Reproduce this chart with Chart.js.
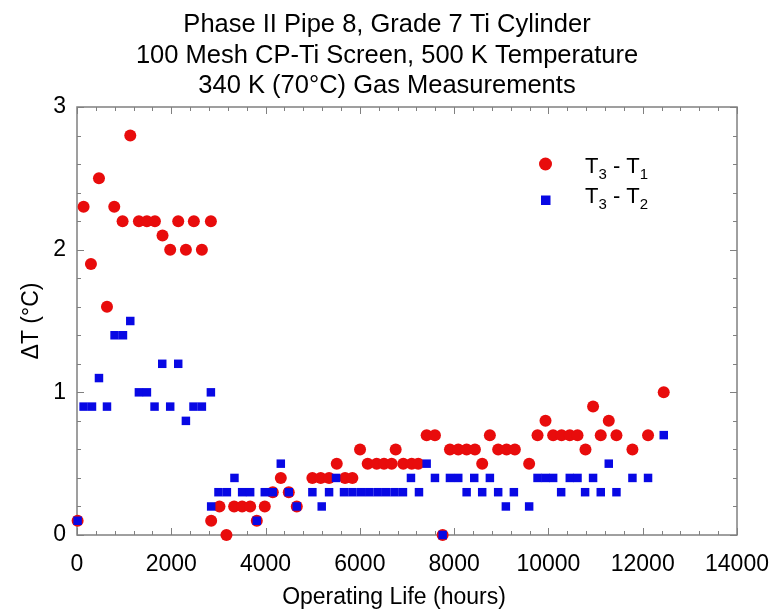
<!DOCTYPE html>
<html><head><meta charset="utf-8">
<script src="https://cdn.jsdelivr.net/npm/chart.js@4/dist/chart.umd.min.js"></script>
<style>html,body{margin:0;padding:0;background:#fff;}canvas{display:block}</style>
</head><body>
<canvas id="c" width="771" height="612"></canvas>
<script>
const titleLines = [
  "Phase II Pipe 8, Grade 7 Ti Cylinder",
  "100 Mesh CP-Ti Screen, 500 K Temperature",
  "340 K (70\u00B0C) Gas Measurements"
];
const xAxisTitle = "Operating Life (hours)";
const yAxisTitle = "\u0394T (\u00B0C)";
const xTickValues = [0, 2000, 4000, 6000, 8000, 10000, 12000, 14000];
const yTickValues = [0, 1, 2, 3];

const t31Hours = [13,140,296,466,636,790,967,1130,1313,1483,1653,1814,1977,2147,2310,2479,2649,2840,
  2846,3022,3170,3333,3503,3673,3814,3983,4153,4323,4492,4662,4993,5170,5347,5510,5686,5841,6004,
  6166,6357,6512,6675,6760,6921,7099,7239,7417,7593,7756,7911,8087,8265,8441,8595,8758,8934,9112,9288,
  9591,9769,9938,10100,10278,10453,10617,10786,10947,11110,11280,11443,11782,12113,12446];
const t31Values = [0.1,2.3,1.9,2.5,1.6,2.3,2.2,2.8,2.2,2.2,2.2,2.1,2.0,2.2,2.0,2.2,2.0,2.2,
  0.1,0.2,0.0,0.2,0.2,0.2,0.1,0.2,0.3,0.4,0.3,0.2,0.4,0.4,0.4,0.5,0.4,0.4,0.6,
  0.5,0.5,0.5,0.5,0.6,0.5,0.5,0.5,0.7,0.7,0.0,0.6,0.6,0.6,0.6,0.5,0.7,0.6,0.6,0.6,
  0.5,0.7,0.8,0.7,0.7,0.7,0.7,0.6,0.9,0.7,0.8,0.7,0.6,0.7,1.0];

const t32Hours = [13,140,318,466,636,797,975,1130,1313,1483,1645,1808,1977,2147,2310,2471,2649,2840,
  2846,3001,3179,3340,3503,3673,3814,3983,4153,4323,4492,4662,4993,5191,5347,5495,5664,5843,6022,
  6200,6378,6556,6736,6914,7084,7254,7417,7593,7756,7911,8087,8265,8426,8595,8758,8934,9097,9267,
  9591,9769,9938,10100,10270,10453,10617,10778,10947,11110,11280,11443,11782,12113,12446];
const t32Values = [0.1,0.9,0.9,1.1,0.9,1.4,1.4,1.5,1.0,1.0,0.9,1.2,0.9,1.2,0.8,0.9,0.9,1.0,
  0.2,0.3,0.3,0.4,0.3,0.3,0.1,0.3,0.3,0.5,0.3,0.2,0.3,0.2,0.3,0.4,0.3,0.3,0.3,
  0.3,0.3,0.3,0.3,0.3,0.4,0.3,0.5,0.4,0.0,0.4,0.4,0.3,0.4,0.3,0.4,0.3,0.2,0.3,
  0.2,0.4,0.4,0.4,0.3,0.4,0.4,0.3,0.4,0.3,0.5,0.3,0.4,0.4,0.7];

const RED = 'rgb(232,12,12)';
const BLUE = 'rgb(8,8,228)';
const FRAME = 'rgb(128,128,128)';
const FONT = "'Liberation Sans', Arial, sans-serif";

const toPts = (xs, ys) => xs.map((x, i) => ({x: x, y: ys[i]}));

const framePlugin = {
  id: 'frameTicks',
  beforeDatasetsDraw(chart) {
    const {ctx, chartArea: a, scales: {x, y}} = chart;
    ctx.save();
    ctx.strokeStyle = FRAME;
    ctx.lineWidth = 1.5;
    ctx.strokeRect(a.left, a.top, a.right - a.left, a.bottom - a.top);
    ctx.lineWidth = 1;
    ctx.beginPath();
    for (let v = 0; v <= 14000; v += 400) {
      const px = Math.round(x.getPixelForValue(v)) + 0.5;
      const len = (v % 2000 === 0) ? 7 : 4;
      ctx.moveTo(px, a.bottom); ctx.lineTo(px, a.bottom - len);
      ctx.moveTo(px, a.top); ctx.lineTo(px, a.top + len);
    }
    for (let k = 0; k <= 15; k++) {
      const v = k * 0.2;
      const py = Math.round(y.getPixelForValue(v)) + 0.5;
      const len = (k % 5 === 0) ? 7 : 4;
      ctx.moveTo(a.left, py); ctx.lineTo(a.left + len, py);
      ctx.moveTo(a.right, py); ctx.lineTo(a.right - len, py);
    }
    ctx.stroke();
    ctx.restore();
  },
  afterDraw(chart) {
    const {ctx} = chart;
    ctx.save();
    ctx.fillStyle = '#000';
    ctx.textAlign = 'center';
    ctx.textBaseline = 'alphabetic';
    ctx.font = '25.5px ' + FONT;
    const base = [32, 62.5, 93];
    titleLines.forEach((t, i) => ctx.fillText(t, 387, base[i]));
    ctx.font = '23px ' + FONT;
    ctx.textBaseline = 'middle';
    ctx.fillText(xAxisTitle, 394, 598);
    ctx.textBaseline = 'alphabetic';
    const drawLabel = (parts, x0, yb) => {
      let xx = x0;
      ctx.textAlign = 'left';
      parts.forEach(([s, sub]) => {
        ctx.font = (sub ? '15px ' : '22px ') + FONT;
        ctx.fillText(s, xx, yb + (sub ? 6 : 0));
        xx += ctx.measureText(s).width;
      });
    };
    ctx.fillStyle = RED;
    ctx.beginPath(); ctx.arc(545.5, 164, 6.5, 0, Math.PI * 2); ctx.fill();
    ctx.fillStyle = BLUE;
    ctx.fillRect(541, 195.5, 9.5, 9.5);
    ctx.fillStyle = '#000';
    drawLabel([['T',0],['3',1],[' - ',0],['T',0],['1',1]], 585, 173);
    drawLabel([['T',0],['3',1],[' - ',0],['T',0],['2',1]], 585, 203);
    ctx.restore();
  }
};

new Chart(document.getElementById('c'), {
  type: 'scatter',
  data: {
    datasets: [
      { label: 'T3 - T1', data: toPts(t31Hours, t31Values), order: 2, clip: false,
        pointStyle: 'circle', pointRadius: 6, pointHoverRadius: 6,
        backgroundColor: RED, borderColor: RED, borderWidth: 0 },
      { label: 'T3 - T2', data: toPts(t32Hours, t32Values), order: 1, clip: false,
        pointStyle: 'rect', pointRadius: 6, pointHoverRadius: 6,
        backgroundColor: BLUE, borderColor: BLUE, borderWidth: 0 }
    ]
  },
  options: {
    responsive: false,
    animation: false,
    events: [],
    layout: { padding: { top: 107, right: 34, bottom: 0, left: 0 } },
    plugins: { legend: { display: false }, title: { display: false }, tooltip: { enabled: false } },
    scales: {
      x: {
        type: 'linear', min: 0, max: 14000,
        afterBuildTicks: s => { s.ticks = xTickValues.map(v => ({value: v})); },
        afterFit: s => { s.height = 77; s.paddingLeft = 0; s.paddingRight = 0; },
        grid: { display: false, drawTicks: false },
        border: { display: false },
        ticks: { color: '#000', font: { family: FONT, size: 23 }, padding: 16, maxRotation: 0, autoSkip: false,
                 callback: v => String(v) },
        title: { display: false, text: xAxisTitle }
      },
      y: {
        type: 'linear', min: 0, max: 3,
        afterBuildTicks: s => { s.ticks = yTickValues.map(v => ({value: v})); },
        afterFit: s => { s.width = 77; s.paddingTop = 0; s.paddingBottom = 0; },
        grid: { display: false, drawTicks: false },
        border: { display: false },
        ticks: { color: '#000', font: { family: FONT, size: 23 }, padding: 11, callback: v => String(v) },
        title: { display: true, text: yAxisTitle, color: '#000', font: { family: FONT, size: 23 }, padding: { top: 18, bottom: 0 } }
      }
    }
  },
  plugins: [framePlugin]
});
</script>
</body></html>
